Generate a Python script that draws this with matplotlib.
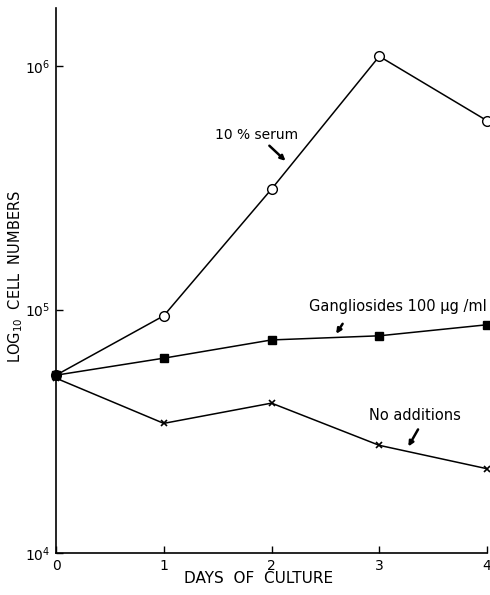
import matplotlib
matplotlib.use("Agg")
import matplotlib.pyplot as plt

days = [0, 1, 2, 3, 4]
serum = [53800, 94400, 313000, 1100000, 598000]
gangliosides = [53800, 63200, 75100, 78100, 86700]
no_additions = [52300, 34100, 41300, 27700, 22200]

plt.rcParams['font.family'] = ['DejaVu Sans']

fig = plt.figure(figsize=(4.9, 5.95), dpi=100)
ax = fig.add_axes([0.1143, 0.0706, 0.8796, 0.916])

ax.plot(days, serum, color='black', lw=1.1, marker='o', ms=7,
        mfc='white', mec='black', mew=1.0, clip_on=False)
ax.plot(days, gangliosides, color='black', lw=1.1, marker='s', ms=5.5,
        mfc='black', mec='black', clip_on=False)
ax.plot(days, no_additions, color='black', lw=1.1, marker='x', ms=4,
        mew=1.2, clip_on=False)

ax.set_yscale('log')
ax.set_xlim(0, 4)
ax.set_ylim(1e4, 10**6.24)
ax.set_xticks(days)
ax.set_xticklabels([str(d) for d in days])
ax.set_yticks([1e4, 1e5, 1e6])
ax.set_yticklabels(['$10^4$', '$10^5$', '$10^6$'])
ax.minorticks_off()
ax.tick_params(direction='in', length=5, width=1, labelsize=10, pad=4)
for s in ['top', 'right']:
    ax.spines[s].set_visible(False)
for s in ['left', 'bottom']:
    ax.spines[s].set_linewidth(1.2)

ax.set_xlabel('DAYS  OF  CULTURE', fontsize=11)
ax.xaxis.set_label_coords(0.47, -0.033)
ax.set_ylabel('LOG$_{10}$  CELL  NUMBERS', fontsize=10.5)
ax.yaxis.set_label_coords(-0.073, 0.507)

arrow = dict(arrowstyle='-|>', color='black', lw=1.8, mutation_scale=7,
             shrinkA=0, shrinkB=0)
ax.text(1.86, 5.24e5, '10 % serum', fontsize=10, ha='center', va='center')
ax.annotate('', xy=(2.13, 4.09e5), xytext=(1.98, 4.72e5), arrowprops=arrow)
ax.text(3.17, 1.03e5, 'Gangliosides 100 µg /ml', fontsize=10.5,
        ha='center', va='center')
ax.annotate('', xy=(2.60, 7.96e4), xytext=(2.66, 8.75e4), arrowprops=arrow)
ax.text(3.33, 3.68e4, 'No additions', fontsize=10.5, ha='center', va='center')
ax.annotate('', xy=(3.27, 2.74e4), xytext=(3.36, 3.22e4), arrowprops=arrow)

fig.savefig('out.png', dpi=100)
